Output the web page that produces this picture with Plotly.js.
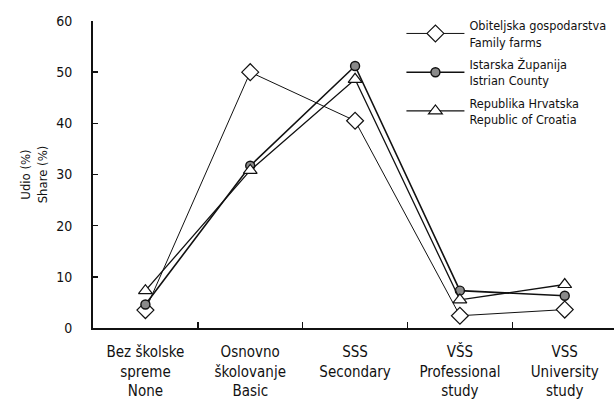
<!DOCTYPE html>
<html>
<head>
<meta charset="utf-8">
<script src="https://cdn.plot.ly/plotly-3.0.1.min.js"></script>
<style>html,body{margin:0;padding:0;background:#fff;}#chart{width:614px;height:412px;}</style>
</head>
<body>
<div id="chart"></div>
<script>
var categories = [
  "Bez školske<br>spreme<br>None",
  "Osnovno<br>školovanje<br>Basic",
  "SSS<br>Secondary",
  "VŠS<br>Professional<br>study",
  "VSS<br>University<br>study"
];
var seriesNames = [
  "Obiteljska gospodarstva<br>Family farms",
  "Istarska Županija<br>Istrian County",
  "Republika Hrvatska<br>Republic of Croatia"
];
var familyFarms = [3.5, 50.0, 40.5, 2.4, 3.6];
var istrianCounty = [4.6, 31.7, 51.2, 7.3, 6.3];
var republicCroatia = [7.3, 30.8, 48.6, 5.5, 8.5];
var yTicks = [0, 10, 20, 30, 40, 50, 60];

var FONT = "Liberation Sans Narrow, DejaVu Sans Condensed, Arial Narrow, sans-serif";

var traces = [
  {
    x: categories, y: familyFarms, name: seriesNames[0], legendgroup: "g1", type: "scatter", mode: "lines+markers",
    line: {color: "#111", width: 1},
    marker: {symbol: "diamond", size: 13, color: "#fff", line: {color: "#111", width: 1.2}}
  },
  {
    x: categories, y: istrianCounty, name: seriesNames[1], legendgroup: "g2", type: "scatter", mode: "lines+markers",
    line: {color: "#111", width: 1.6},
    marker: {symbol: "circle", size: 9, color: "#8a8a8a", line: {color: "#111", width: 1.4}}
  },
  {
    x: categories, y: republicCroatia, name: seriesNames[2], legendgroup: "g3", type: "scatter", mode: "lines+markers",
    line: {color: "#111", width: 1.3},
    marker: {symbol: "triangle-up", size: 12, color: "#fff", line: {color: "#111", width: 1.2}}
  }
];

var layout = {
  width: 614, height: 412,
  margin: {l: 93, r: 0, t: 21, b: 84, autoexpand: false},
  paper_bgcolor: "#fff", plot_bgcolor: "#fff",
  font: {family: FONT, color: "#111", size: 14},
  showlegend: true,
  legend: {
    x: 0.592, y: 1.034, xanchor: "left", yanchor: "top",
    font: {family: FONT, size: 12.6, color: "#111"},
    itemwidth: 58, tracegroupgap: 3, bgcolor: "rgba(0,0,0,0)"
  },
  xaxis: {
    type: "category", range: [-0.5, 4.47], automargin: false,
    showline: true, linecolor: "#111", linewidth: 2,
    ticks: "inside", tickson: "boundaries", ticklen: 6, tickwidth: 1.5, tickcolor: "#111",
    showgrid: false, zeroline: false,
    tickfont: {family: FONT, size: 15, color: "#111"},
    ticklabelstandoff: 9
  },
  yaxis: {
    range: [0, 60], tickvals: yTicks, automargin: false,
    showline: true, linecolor: "#111", linewidth: 2,
    ticks: "inside", ticklen: 5, tickwidth: 1.5, tickcolor: "#111",
    showgrid: false, zeroline: false,
    tickfont: {family: FONT, size: 14, color: "#111"},
    ticklabelstandoff: 16,
    title: {text: "Udio (%)<br>Share (%)", font: {family: FONT, size: 13, color: "#111"}, standoff: 6}
  }
};

Plotly.newPlot("chart", traces, layout, {displayModeBar: false, staticPlot: true});
</script>
</body>
</html>
